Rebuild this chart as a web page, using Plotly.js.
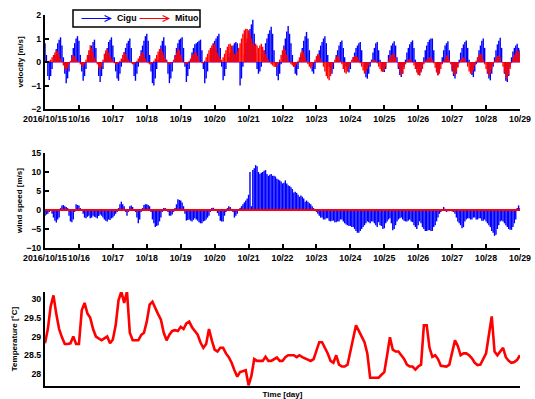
<!DOCTYPE html>
<html>
<head>
<meta charset="utf-8">
<script src="https://cdn.plot.ly/plotly-3.0.1.min.js"></script>
<style>html,body{margin:0;padding:0;background:#fff;}#chart{width:535px;height:399px;}</style>
</head>
<body>
<div id="chart"></div>
<script>
// ---- data: hourly samples from 2016/10/15 00:00 (velocity, wind); 2-hourly (temperature) ----
const tickLabels = ['2016/10/15','10/16','10/17','10/18','10/19','10/20','10/21','10/22','10/23','10/24','10/25','10/26','10/27','10/28','10/29'];
const seriesNames = ['Cigu', 'Mituo'];

// velocity [m/s], Cigu (hourly, one row per day)
const cigu = [
  0.8,0.3,-0.6,-0.77,-0.6,-0.3,0.0,0.3,0.55,0.8,0.95,1.05,0.7,0.2,-0.5,-0.9,-0.7,-0.4,0.0,0.3,0.6,0.8,1.0,1.1,
  0.9,0.3,-0.4,-0.8,-0.6,-0.3,0.0,0.3,0.5,0.7,0.85,0.95,0.6,0.0,-0.6,-0.85,-0.6,-0.3,0.1,0.4,0.6,0.85,0.95,1.05,
  0.7,0.2,-0.4,-0.7,-0.8,-0.5,-0.2,0.1,0.4,0.6,0.8,0.9,1.0,0.6,0.0,-0.6,-0.8,-0.5,-0.2,0.2,0.5,0.7,0.9,1.1,
  1.2,0.9,0.3,-0.4,-0.9,-1.0,-0.7,-0.3,0.1,0.4,0.7,0.9,1.05,0.7,0.1,-0.5,-0.9,-0.7,-0.4,0.0,0.3,0.6,0.8,0.95,
  1.0,1.05,0.6,-0.2,-0.85,-0.6,-0.3,0.1,0.4,0.6,0.75,0.8,0.85,0.9,0.95,0.5,-0.3,-0.9,-0.7,-0.4,0.0,0.3,0.6,0.8,
  0.9,1.0,1.1,1.2,0.6,-0.2,-0.78,-0.6,-0.3,0.0,0.2,0.4,0.6,0.7,0.8,0.85,0.8,0.0,-1.0,-0.7,-0.2,0.3,0.8,1.0,
  1.2,1.4,1.6,1.8,1.2,0.4,-0.3,-0.5,-0.4,-0.2,0.2,0.5,0.8,1.0,1.2,1.35,1.5,1.2,0.5,-0.2,-0.6,-0.78,-0.5,-0.1,
  0.3,0.7,1.0,1.3,1.53,1.2,0.8,0.3,-0.2,-0.5,-0.57,-0.3,0.0,0.3,0.6,0.9,1.1,1.28,1.0,0.5,0.0,-0.4,-0.5,-0.3,
  0.0,0.3,0.5,0.7,0.85,1.0,1.1,0.8,0.3,-0.2,-0.45,-0.5,-0.3,0.0,0.3,0.5,0.7,0.85,0.92,0.6,0.2,-0.2,-0.4,-0.45,
  -0.3,0.0,0.2,0.4,0.6,0.7,0.8,0.85,0.5,0.0,-0.4,-0.65,-0.71,-0.5,-0.2,0.1,0.4,0.6,0.8,0.85,0.5,0.1,-0.2,-0.4,
  -0.43,-0.3,0.0,0.3,0.5,0.7,0.8,0.88,0.7,0.2,-0.3,-0.55,-0.64,-0.5,-0.2,0.1,0.4,0.6,0.75,0.85,0.92,0.6,0.1,-0.3,
  -0.5,-0.57,-0.4,-0.1,0.2,0.5,0.7,0.85,0.95,1.0,1.0,0.5,0.0,-0.4,-0.55,-0.4,-0.1,0.2,0.5,0.7,0.8,0.88,0.5,0.0,
  -0.4,-0.6,-0.7,-0.5,-0.2,0.1,0.4,0.6,0.75,0.85,0.92,0.6,0.1,-0.3,-0.55,-0.64,-0.4,-0.1,0.2,0.5,0.7,0.9,1.0,0.6,
  0.0,-0.5,-0.7,-0.78,-0.5,-0.2,0.2,0.5,0.75,0.9,1.03,0.6,0.0,-0.5,-0.8,-0.85,-0.6,-0.2,0.2,0.45,0.6,0.7,0.78,0.6,
  0.5
];

// velocity [m/s], Mituo (hourly)
const mituo = [
  0.1,0.05,0.0,0.05,0.1,0.2,0.3,0.4,0.5,0.45,0.3,0.15,0.0,-0.15,-0.3,-0.35,-0.25,-0.1,0.05,0.15,0.3,0.25,0.1,0.05,
  0.0,-0.1,-0.15,-0.2,-0.1,0.1,0.3,0.5,0.71,0.6,0.4,0.2,0.05,-0.1,-0.25,-0.35,-0.2,0.1,0.35,0.5,0.55,0.4,0.25,0.15,
  0.05,-0.05,-0.1,-0.1,-0.05,0.05,0.15,0.3,0.43,0.35,0.2,0.1,0.0,-0.05,-0.1,-0.1,-0.05,0.05,0.15,0.25,0.35,0.43,0.3,0.15,
  0.0,-0.05,-0.1,-0.1,-0.05,0.05,0.15,0.3,0.45,0.55,0.57,0.45,0.3,0.15,0.05,-0.05,-0.1,-0.05,0.0,0.1,0.25,0.4,0.57,0.5,
  0.3,0.15,0.0,-0.05,-0.1,-0.05,0.05,0.15,0.25,0.35,0.43,0.4,0.25,0.1,0.0,-0.05,-0.05,0.05,0.2,0.35,0.5,0.6,0.7,0.75,
  0.78,0.6,0.4,0.25,0.15,0.1,0.2,0.35,0.5,0.65,0.75,0.78,0.7,0.5,0.35,0.3,0.45,0.6,0.8,1.0,1.2,1.35,1.42,1.4,
  1.35,1.2,1.0,0.8,0.7,0.78,0.7,0.6,0.7,0.78,0.65,0.5,0.35,0.2,0.1,0.0,-0.1,-0.15,-0.2,-0.2,-0.2,-0.1,0.1,0.3,
  0.5,0.64,0.5,0.3,0.1,0.0,-0.1,-0.15,-0.2,-0.2,-0.1,0.05,0.2,0.4,0.5,0.4,0.2,0.05,-0.1,-0.2,-0.28,-0.2,-0.05,0.1,
  0.25,0.35,0.3,0.15,0.0,-0.2,-0.4,-0.6,-0.7,-0.78,-0.6,-0.3,-0.05,0.1,0.2,0.28,0.2,0.05,-0.1,-0.3,-0.45,-0.5,-0.4,-0.2,
  -0.05,0.1,0.2,0.25,0.25,0.2,0.1,-0.05,-0.2,-0.35,-0.5,-0.45,-0.3,-0.15,0.0,0.05,0.1,0.1,0.05,-0.05,-0.2,-0.3,-0.4,-0.43,
  -0.35,-0.2,0.0,0.1,0.2,0.3,0.35,0.35,0.2,0.0,-0.2,-0.4,-0.57,-0.5,-0.3,-0.1,0.05,0.1,0.14,0.1,0.0,-0.15,-0.3,-0.45,
  -0.55,-0.57,-0.45,-0.3,-0.1,0.05,0.1,0.15,0.2,0.2,0.1,-0.05,-0.25,-0.45,-0.57,-0.5,-0.3,-0.1,0.05,0.15,0.28,0.25,0.1,-0.1,
  -0.3,-0.5,-0.57,-0.45,-0.25,-0.05,0.1,0.15,0.2,0.15,0.0,-0.2,-0.4,-0.5,-0.5,-0.35,-0.15,0.05,0.2,0.3,0.35,0.3,0.1,-0.1,
  -0.3,-0.45,-0.57,-0.5,-0.3,-0.1,0.05,0.15,0.25,0.28,0.2,0.0,-0.2,-0.45,-0.65,-0.71,-0.55,-0.3,-0.05,0.15,0.3,0.4,0.5,0.45,
  0.3
];

// wind speed [m/s] (hourly)
const wind = [
  -1.5,-1.2,-1.0,-0.5,0.0,-1.0,-2.0,-2.8,-3.3,-2.5,-2.0,0.5,1.2,1.3,1.0,0.8,0.5,-1.5,-3.0,-3.2,-2.5,-0.5,1.5,1.3,
  1.2,0.5,0.0,-1.0,-2.0,-2.2,-1.8,-1.5,-2.2,-2.0,-1.5,-1.8,-2.0,-2.2,-1.6,-1.2,-1.5,-2.0,-2.5,-2.8,-3.0,-2.5,-2.6,-2.2,
  -2.0,-1.5,-1.0,-0.5,0.5,1.5,2.2,1.5,1.0,-0.5,-1.5,-0.5,1.0,1.2,0.8,0.2,-0.5,-2.0,-3.5,-2.5,-0.5,0.5,1.3,1.5,
  1.5,1.3,1.0,-0.5,-2.5,-3.5,-4.5,-4.2,-4.0,-3.0,-2.0,-0.5,0.5,0.5,0.3,-0.5,-1.5,-1.5,-1.2,-0.5,0.5,1.5,2.8,2.6,
  2.5,2.0,1.0,-1.0,-2.8,-2.6,-2.5,-2.8,-3.0,-2.6,-2.2,-2.5,-2.8,-3.2,-3.5,-3.5,-3.0,-2.8,-2.5,-2.0,-1.5,-0.5,0.5,0.6,
  0.3,-0.2,-0.8,-1.5,-2.8,-3.0,-3.0,-1.5,-0.5,0.5,1.0,0.8,0.3,-0.5,-2.0,-1.5,-1.0,0.0,0.5,1.0,1.5,2.0,2.5,3.0,
  4.0,10.0,1.0,10.5,11.0,11.8,11.5,10.0,9.5,9.8,10.0,10.3,10.5,9.5,9.0,9.3,9.5,9.0,9.0,8.8,8.2,8.0,7.8,7.5,
  7.0,7.2,7.8,7.0,6.5,6.3,6.0,5.5,4.6,4.8,4.5,4.0,3.5,3.8,3.5,3.0,2.2,2.5,2.2,1.8,1.5,1.0,0.5,0.2,
  -0.5,-1.0,-1.5,-2.0,-2.0,-2.5,-2.5,-2.2,-2.2,-2.8,-3.0,-2.8,-2.8,-3.2,-3.2,-3.0,-3.0,-2.5,-2.5,-3.0,-3.5,-3.8,-4.0,-4.2,
  -4.2,-4.5,-4.5,-5.0,-5.5,-6.0,-6.0,-5.5,-5.0,-4.5,-4.0,-3.5,-3.0,-3.2,-3.5,-3.0,-3.0,-3.5,-4.0,-4.5,-3.2,-4.0,-4.2,-5.0,
  -4.8,-3.5,-3.0,-2.5,-2.2,-3.5,-5.3,-5.0,-4.0,-3.0,-2.5,-2.2,-2.0,-2.5,-2.8,-3.0,-3.0,-2.8,-2.5,-3.0,-3.2,-4.0,-4.5,-5.0,
  -4.0,-3.0,-3.5,-4.5,-5.0,-5.5,-5.5,-5.3,-5.3,-5.5,-5.5,-4.5,-4.0,-3.0,-2.0,-1.0,-0.5,0.0,0.8,0.3,-0.5,-0.3,-0.3,0.2,
  -0.4,-0.5,-1.0,-2.0,-3.0,-3.5,-4.0,-4.8,-4.5,-3.0,-2.5,-2.2,-2.2,-2.5,-2.5,-2.0,-2.0,-2.5,-2.5,-2.2,-2.2,-2.8,-2.8,-2.5,
  -3.0,-3.5,-4.0,-4.5,-5.5,-6.0,-6.8,-6.5,-5.0,-4.0,-3.0,-2.8,-3.0,-3.5,-4.0,-4.5,-5.0,-5.2,-5.2,-4.5,-3.5,-2.5,0.5,1.2,
  0.5
];

// water temperature [°C] (2-hourly)
const temperature = [
  28.82,29.2,29.8,30.1,29.6,29.2,28.98,28.8,28.8,28.82,29.0,28.8,
  28.8,29.7,29.9,29.62,29.5,29.2,29.0,28.95,28.9,28.95,29.0,28.82,
  28.92,29.3,29.97,30.2,29.9,30.2,29.1,28.9,28.9,28.9,29.04,29.1,
  29.4,29.85,29.93,29.75,29.6,29.45,29.1,28.9,29.05,29.15,29.17,29.15,
  29.26,29.2,29.35,29.4,29.25,29.15,29.05,28.84,28.7,28.8,29.2,28.9,
  28.65,28.6,28.7,28.7,28.55,28.45,28.3,28.1,27.93,28.05,28.08,28.1,
  27.7,27.95,28.4,28.35,28.35,28.35,28.46,28.35,28.35,28.4,28.44,28.35,
  28.35,28.45,28.5,28.5,28.5,28.45,28.5,28.45,28.42,28.4,28.35,28.4,
  28.6,28.85,28.85,28.7,28.55,28.35,28.3,28.5,28.25,28.2,28.2,28.25,
  28.6,29.0,29.3,29.15,29.0,28.85,28.55,27.9,27.9,27.9,27.9,27.98,
  28.05,28.5,28.98,28.65,28.6,28.6,28.5,28.4,28.25,28.2,28.2,28.12,
  28.2,28.25,29.3,29.3,28.7,28.46,28.5,28.4,28.22,28.2,28.2,28.25,
  28.6,28.9,28.75,28.5,28.55,28.55,28.5,28.42,28.3,28.24,28.25,28.42,
  28.55,29.05,29.54,28.6,28.5,28.6,28.7,28.45,28.35,28.3,28.32,28.38,
  28.5
];

// ---- build ----
const SPAN_DAYS = tickLabels.length - 1;
const timeOf = vals => vals.map((_, k) => k * SPAN_DAYS / (vals.length - 1));
const tickDays = tickLabels.map((_, i) => i);

function sticks(vals) {
  const t = timeOf(vals), x = [], y = [];
  vals.forEach((v, k) => { x.push(t[k], t[k], null); y.push(0, v, null); });
  return {x, y};
}

const FONT = 'Liberation Sans, Arial, Helvetica, sans-serif';
const sC = sticks(cigu), sM = sticks(mituo), sW = sticks(wind);
const tTemp = timeOf(temperature);
const STICK_W = 1.4;

const traces = [
  {x: sC.x, y: sC.y, xaxis: 'x', yaxis: 'y', mode: 'lines', name: seriesNames[0],
   line: {color: '#0000ff', width: STICK_W}, hoverinfo: 'skip'},
  {x: sM.x, y: sM.y, xaxis: 'x', yaxis: 'y', mode: 'lines', name: seriesNames[1],
   line: {color: '#ff0000', width: STICK_W}, hoverinfo: 'skip'},
  {x: sW.x, y: sW.y, xaxis: 'x2', yaxis: 'y2', mode: 'lines', name: 'wind',
   line: {color: '#0000ff', width: STICK_W}, hoverinfo: 'skip'},
  {x: tTemp, y: temperature, xaxis: 'x3', yaxis: 'y3', mode: 'lines', name: 'temperature',
   line: {color: '#ff0000', width: 2.6}, hoverinfo: 'skip'}
];

const XDOM = [45/535, 520/535];
const tickFont = {family: FONT, size: 8.8, color: '#000', weight: 700};
const titleFont = {family: FONT, size: 8, color: '#000', weight: 700};
const baseX = {
  domain: XDOM, range: [0, SPAN_DAYS], showgrid: false, zeroline: false,
  showline: true, linewidth: 2, linecolor: '#000', mirror: false,
  ticks: 'inside', ticklen: 4, tickwidth: 2, tickcolor: '#000',
  tickvals: tickDays, ticktext: tickLabels, tickangle: 0,
  tickfont: tickFont
};
const baseY = {
  showgrid: false, showline: true, linewidth: 2, linecolor: '#000',
  ticks: 'inside', ticklen: 4, tickwidth: 2, tickcolor: '#000',
  tickangle: 0, tickfont: tickFont
};

const layout = {
  width: 535, height: 399,
  margin: {l: 0, r: 0, t: 0, b: 0},
  paper_bgcolor: '#fff', plot_bgcolor: 'rgba(0,0,0,0)',
  showlegend: false,
  font: {family: FONT, size: 9, color: '#000'},
  xaxis: Object.assign({}, baseX, {anchor: 'y'}),
  yaxis: Object.assign({}, baseY, {
    domain: [1 - 109/399, 1 - 15/399], range: [-2, 2], anchor: 'x',
    tickvals: [-2, -1, 0, 1, 2],
    zeroline: true, zerolinecolor: '#c864c8', zerolinewidth: 1,
    title: {text: 'velocity [m/s]', font: titleFont, standoff: 6}
  }),
  xaxis2: Object.assign({}, baseX, {anchor: 'y2'}),
  yaxis2: Object.assign({}, baseY, {
    domain: [1 - 248/399, 1 - 153/399], range: [-10, 15], anchor: 'x2',
    tickvals: [-10, -5, 0, 5, 10, 15], zeroline: false,
    title: {text: 'wind speed [m/s]', font: titleFont, standoff: 3}
  }),
  xaxis3: Object.assign({}, baseX, {anchor: 'y3', ticks: '', showticklabels: false,
    title: {text: 'Time [day]', font: titleFont, standoff: 4}}),
  yaxis3: Object.assign({}, baseY, {
    domain: [1 - 386/399, 1 - 292/399], range: [27.68, 30.19], anchor: 'x3',
    tickvals: [28, 28.5, 29, 29.5, 30], ticks: '', zeroline: false,
    title: {text: 'Temperature [\u00B0C]', font: titleFont, standoff: 5}
  }),
  shapes: [
    {type: 'line', xref: 'x2', yref: 'y2', x0: 0, x1: SPAN_DAYS, y0: 0, y1: 0,
     line: {color: '#ff0000', width: 2}, layer: 'above'},
    {type: 'rect', xref: 'paper', yref: 'paper', x0: 73/535, x1: 200/535, y0: 1 - 27/399, y1: 1 - 10/399,
     line: {color: '#000', width: 1.5}, fillcolor: '#fff', layer: 'above'}
  ],
  annotations: [
    {xref: 'paper', yref: 'paper', x: 112/535, y: 1 - 18.5/399, ax: -32, ay: 0, text: '',
     showarrow: true, arrowhead: 5, arrowsize: 1, arrowwidth: 1.2, arrowcolor: '#0000ff', standoff: 0},
    {xref: 'paper', yref: 'paper', x: 170/535, y: 1 - 18.5/399, ax: -32, ay: 0, text: '',
     showarrow: true, arrowhead: 5, arrowsize: 1, arrowwidth: 1.2, arrowcolor: '#ff0000', standoff: 0},
    {xref: 'paper', yref: 'paper', x: 115/535, y: 1 - 18.5/399, xanchor: 'left', yanchor: 'middle',
     text: seriesNames[0], showarrow: false, font: {family: FONT, size: 8.8, color: '#000', weight: 700}},
    {xref: 'paper', yref: 'paper', x: 173/535, y: 1 - 18.5/399, xanchor: 'left', yanchor: 'middle',
     text: seriesNames[1], showarrow: false, font: {family: FONT, size: 8.8, color: '#000', weight: 700}}
  ]
};

Plotly.newPlot('chart', traces, layout, {staticPlot: true, displayModeBar: false});
</script>
</body>
</html>
